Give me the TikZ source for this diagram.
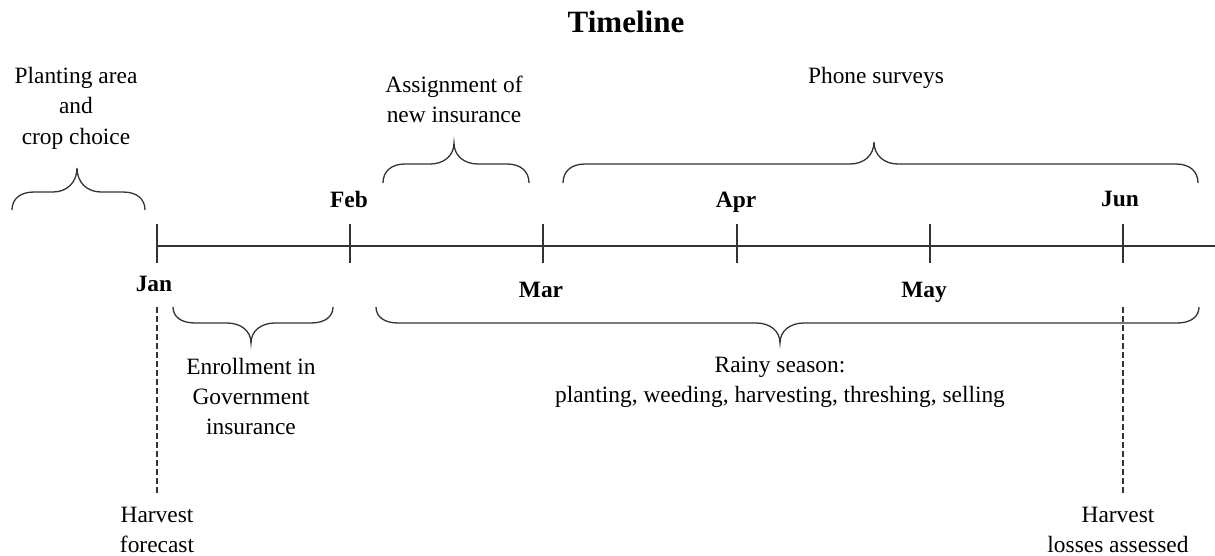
\documentclass[tikz,border=0pt]{standalone}
\usepackage{fontspec}
\setmainfont{Liberation Serif}

% Word-like curly brace: x1, x2, tip x, end y, flat y, tip y
\newcommand{\wordbrace}[6]{%
  \draw [brace line] (#1,#4) .. controls (#1,{#4+0.6*(#5-#4)}) and ({#1+8},#5) .. ({#1+22},#5)
    -- ({#3-24},#5) .. controls ({#3-10},#5) and (#3,{#5+0.4*(#6-#5)}) .. (#3,#6)
    .. controls (#3,{#5+0.4*(#6-#5)}) and ({#3+10},#5) .. ({#3+24},#5)
    -- ({#2-22},#5) .. controls ({#2-8},#5) and (#2,{#4+0.6*(#5-#4)}) .. (#2,#4);}

\begin{document}
\begin{tikzpicture}[x = 0.5pt, y = -0.5pt, line width = 0.7pt,
                        note/.style = {align = center, anchor = base, inner sep = 2pt,
                                       font = \fontsize{11.7}{15}\selectfont},
                        month/.style = {anchor = base, font = \fontsize{11.7}{15}\selectfont\bfseries},
                        title/.style = {anchor = base, font = \fontsize{15.5}{18}\selectfont\bfseries},
                        brace line/.style = {black!80, line width = 0.65pt},
                        guide/.style = {black!80, line width = 0.6pt, dash pattern = on 3pt off 1.5pt}]
        \useasboundingbox (0,0) rectangle (1215,556);

        \node [title] (title) at (626,33) {Timeline};

        % time axis
        \coordinate (A0) at (157,246);
        \coordinate (A1) at (1215,246);
        \draw [black!80] (A0) -- (A1);
        \foreach \x/\lx/\m/\ly in {157/154/Jan/291, 350/349/Feb/207, 543/541/Mar/297,
                                   737/736/Apr/207, 930/924/May/297, 1123/1120/Jun/206} {
            \draw [black!80] (\x,224) -- (\x,263);
            \node [month] (\m) at (\lx,\ly) {\m};
        }

        % above the axis (base = last line)
        \node [note] (plant) at (76,144) {Planting area\\and\\crop choice};
        \wordbrace{12}{145}{77}{210}{192}{168}
        \node [note] (assign) at (454,123) {Assignment of\\new insurance};
        \wordbrace{383}{529}{454}{183}{164}{143}
        \node [note] (phone) at (876,84) {Phone surveys};
        \wordbrace{563}{1198}{874}{183}{164}{142}

        % below the axis
        \wordbrace{173}{333}{251}{307}{323}{343}
        \node [note] (enrol) at (251,434) {Enrollment in\\Government\\insurance};
        \wordbrace{376}{1199}{780}{307}{323}{343}
        \node [note] (rainy) at (780,402) {Rainy season:\\planting, weeding, harvesting, threshing, selling};

        \node [note] (hfore) at (157,552) {Harvest\\forecast};
        \node [note] (hloss) at (1118,552) {Harvest\\losses assessed};
        \coordinate (D1) at (157,307);
        \coordinate (D2) at (1123,307);
        \draw [guide, shorten >= 4pt] (D1) -- (hfore.north -| D1);
        \draw [guide, shorten >= 4pt] (D2) -- (hloss.north -| D2);
\end{tikzpicture}
\end{document}
